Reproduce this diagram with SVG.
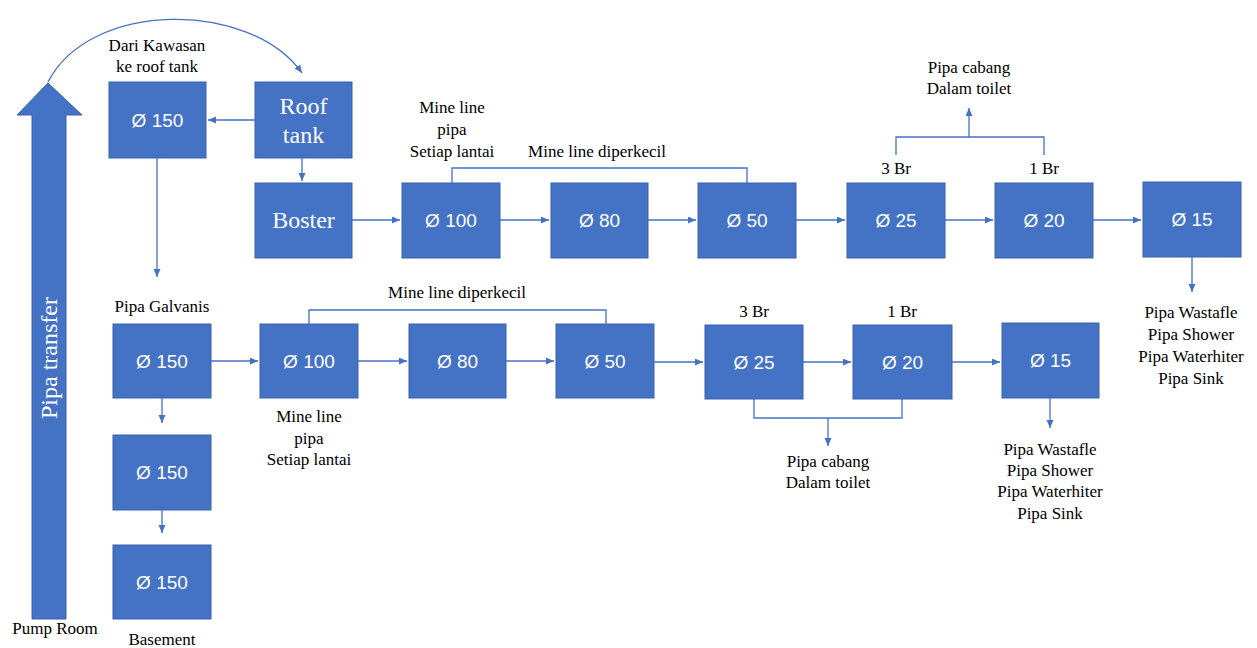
<svg xmlns="http://www.w3.org/2000/svg" width="1257" height="648" viewBox="0 0 1257 648">
<style>
.box{fill:#4472C4;stroke:#3A62AD;stroke-width:1}
.num{font-family:"Liberation Sans",Arial,sans-serif;font-size:19px;fill:#fff;text-anchor:middle}
.ser{font-family:"Liberation Serif","Times New Roman",serif;font-size:24px;fill:#fff;text-anchor:middle}
.lbl{font-family:"Liberation Serif","Times New Roman",serif;font-size:17px;fill:#000;text-anchor:middle}
.ln{fill:none;stroke:#4472C4;stroke-width:1.3}
.ar{fill:none;stroke:#4472C4;stroke-width:1.3;marker-end:url(#ah)}
</style>
<defs>
<marker id="ah" markerUnits="userSpaceOnUse" markerWidth="9" markerHeight="8" refX="8" refY="3.5" orient="auto">
<path d="M0,0 L8,3.5 L0,7 z" fill="#4472C4"/>
</marker>
</defs>
<rect width="1257" height="648" fill="#fff"/>

<g id="pipa-transfer">
<path d="M32,619 L32,115 L17,115 L48,83 L82,115 L66,115 L66,619 Z" fill="#4472C4" stroke="#3A62AD" stroke-width="1"/>
<text class="ser" font-size="23" transform="translate(57,358) rotate(-90)">Pipa transfer</text>
</g>

<g id="connectors">
<path class="ar" d="M48,82 C90,0 250,0 302,73"/>
<path class="ar" d="M255,120 L208,120"/>
<path class="ar" d="M302,158 L302,181"/>
<path class="ar" d="M157,158 L157,277"/>
<path class="ar" d="M352,220 L400,220"/>
<path class="ar" d="M500,220 L549,220"/>
<path class="ar" d="M648,220 L696,220"/>
<path class="ar" d="M796,220 L845,220"/>
<path class="ar" d="M945,220 L993,220"/>
<path class="ar" d="M1093,220 L1141,220"/>
<path class="ln" d="M452,183 L452,168 L747,168 L747,183"/>
<path class="ln" d="M896,155 L896,137 L1044,137 L1044,155"/>
<path class="ar" d="M969,137 L969,108"/>
<path class="ar" d="M1192,257 L1192,292"/>
<path class="ar" d="M211,361 L258,361"/>
<path class="ar" d="M162,398 L162,423"/>
<path class="ar" d="M162,510 L162,533"/>
<path class="ar" d="M358,361 L407,361"/>
<path class="ar" d="M506,361 L554,361"/>
<path class="ar" d="M654,362 L703,362"/>
<path class="ar" d="M803,362 L851,362"/>
<path class="ar" d="M952,362 L1000,362"/>
<path class="ln" d="M309,324 L309,310 L606,310 L606,324"/>
<path class="ln" d="M754,399 L754,418 L902,418 L902,399"/>
<path class="ar" d="M828,418 L828,446"/>
<path class="ar" d="M1050,398 L1050,428"/>
</g>

<g id="n-top150"><rect class="box" x="109" y="82" width="97" height="76"/><text class="num" x="157.5" y="127">Ø 150</text></g>
<g id="n-rooftank"><rect class="box" x="255" y="82" width="97" height="76"/><text class="ser" x="303.5" y="114">Roof</text><text class="ser" x="303.5" y="143">tank</text></g>
<g id="n-boster"><rect class="box" x="255" y="183" width="97" height="75"/><text class="ser" x="303.5" y="228">Boster</text></g>
<g id="n-t100"><rect class="box" x="402" y="183" width="98" height="75"/><text class="num" x="451" y="227">Ø 100</text></g>
<g id="n-t80"><rect class="box" x="551" y="183" width="97" height="75"/><text class="num" x="599.5" y="227">Ø 80</text></g>
<g id="n-t50"><rect class="box" x="698" y="183" width="98" height="75"/><text class="num" x="747" y="227">Ø 50</text></g>
<g id="n-t25"><rect class="box" x="847" y="183" width="98" height="75"/><text class="num" x="896" y="227">Ø 25</text></g>
<g id="n-t20"><rect class="box" x="995" y="183" width="98" height="75"/><text class="num" x="1044" y="227">Ø 20</text></g>
<g id="n-t15"><rect class="box" x="1143" y="182" width="98" height="75"/><text class="num" x="1192" y="226">Ø 15</text></g>

<g id="n-b150a"><rect class="box" x="113" y="324" width="98" height="74"/><text class="num" x="162" y="368">Ø 150</text></g>
<g id="n-b150b"><rect class="box" x="113" y="435" width="98" height="75"/><text class="num" x="162" y="479">Ø 150</text></g>
<g id="n-b150c"><rect class="box" x="113" y="545" width="98" height="74"/><text class="num" x="162" y="589">Ø 150</text></g>
<g id="n-b100"><rect class="box" x="260" y="324" width="98" height="74"/><text class="num" x="309" y="368">Ø 100</text></g>
<g id="n-b80"><rect class="box" x="409" y="324" width="97" height="74"/><text class="num" x="457.5" y="368">Ø 80</text></g>
<g id="n-b50"><rect class="box" x="556" y="324" width="98" height="74"/><text class="num" x="605" y="368">Ø 50</text></g>
<g id="n-b25"><rect class="box" x="705" y="325" width="98" height="74"/><text class="num" x="754" y="369">Ø 25</text></g>
<g id="n-b20"><rect class="box" x="853" y="325" width="99" height="74"/><text class="num" x="902.5" y="369">Ø 20</text></g>
<g id="n-b15"><rect class="box" x="1002" y="323" width="97" height="75"/><text class="num" x="1050.5" y="367">Ø 15</text></g>

<g id="labels">
<text class="lbl" x="157" y="51">Dari  Kawasan</text>
<text class="lbl" x="157" y="72">ke roof tank</text>
<text class="lbl" x="452" y="113">Mine  line</text>
<text class="lbl" x="452" y="135">pipa</text>
<text class="lbl" x="452" y="157">Setiap lantai</text>
<text class="lbl" x="597" y="157">Mine  line  diperkecil</text>
<text class="lbl" x="969" y="73">Pipa cabang</text>
<text class="lbl" x="969" y="94">Dalam  toilet</text>
<text class="lbl" x="896" y="174">3 Br</text>
<text class="lbl" x="1044" y="174">1 Br</text>
<text class="lbl" x="1191" y="318">Pipa Wastafle</text>
<text class="lbl" x="1191" y="340">Pipa Shower</text>
<text class="lbl" x="1191" y="362">Pipa Waterhiter</text>
<text class="lbl" x="1191" y="384">Pipa Sink</text>
<text class="lbl" x="162" y="312">Pipa Galvanis</text>
<text class="lbl" x="309" y="422">Mine  line</text>
<text class="lbl" x="309" y="444">pipa</text>
<text class="lbl" x="309" y="465">Setiap lantai</text>
<text class="lbl" x="457" y="298">Mine  line  diperkecil</text>
<text class="lbl" x="754" y="317">3 Br</text>
<text class="lbl" x="902" y="317">1 Br</text>
<text class="lbl" x="828" y="467">Pipa cabang</text>
<text class="lbl" x="828" y="488">Dalam  toilet</text>
<text class="lbl" x="1050" y="455">Pipa Wastafle</text>
<text class="lbl" x="1050" y="476">Pipa Shower</text>
<text class="lbl" x="1050" y="497">Pipa Waterhiter</text>
<text class="lbl" x="1050" y="519">Pipa Sink</text>
<text class="lbl" x="55" y="634">Pump Room</text>
<text class="lbl" x="162" y="645">Basement</text>
</g>
</svg>
